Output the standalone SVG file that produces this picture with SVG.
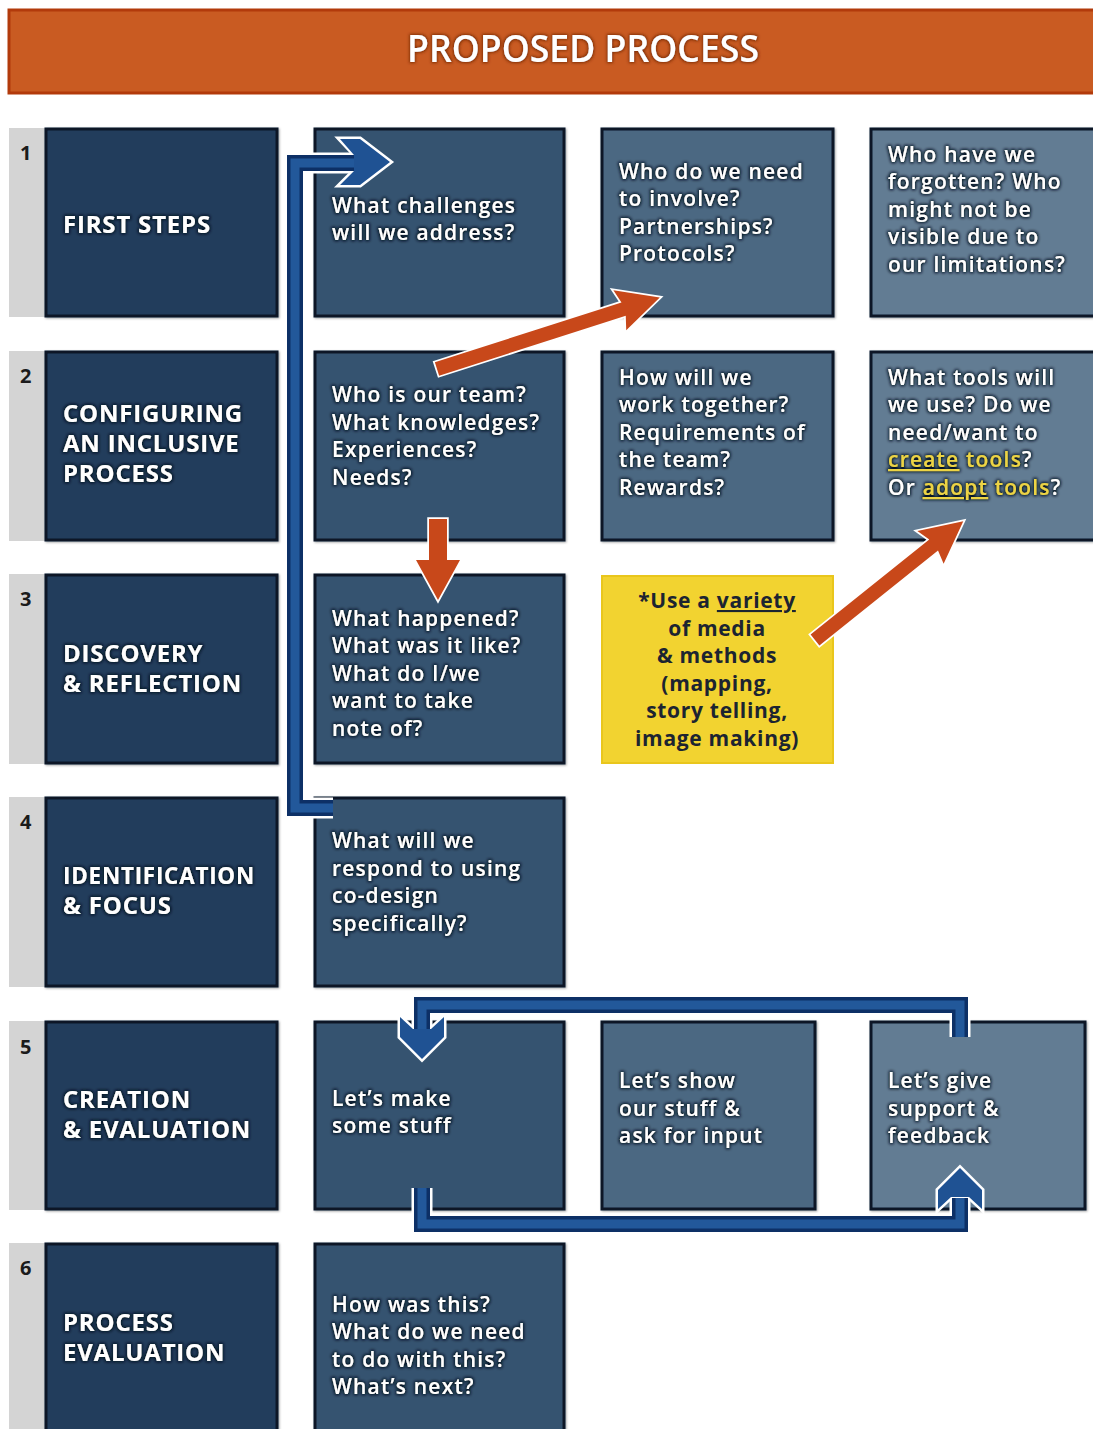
<svg xmlns="http://www.w3.org/2000/svg" width="1093" height="1429" viewBox="0 0 1093 1429">
  <defs>
    <filter id="halo" x="-10%" y="-30%" width="120%" height="160%">
      <feMorphology in="SourceAlpha" operator="dilate" radius="1" result="d"/>
      <feGaussianBlur in="d" stdDeviation="1.6" result="b"/>
      <feFlood flood-color="#06111f" flood-opacity="0.95"/>
      <feComposite in2="b" operator="in" result="s"/>
      <feMerge><feMergeNode in="s"/><feMergeNode in="SourceGraphic"/></feMerge>
    </filter>
    <filter id="haloOrange" x="-10%" y="-30%" width="120%" height="160%">
      <feMorphology in="SourceAlpha" operator="dilate" radius="1" result="d"/>
      <feGaussianBlur in="d" stdDeviation="1.8" result="b"/>
      <feFlood flood-color="#7a2a05" flood-opacity="0.9"/>
      <feComposite in2="b" operator="in" result="s"/>
      <feMerge><feMergeNode in="s"/><feMergeNode in="SourceGraphic"/></feMerge>
    </filter>
    <filter id="boxShade" x="-5%" y="-5%" width="110%" height="110%">
      <feDropShadow dx="1" dy="1" stdDeviation="1.2" flood-color="#000" flood-opacity="0.35"/>
    </filter>
  </defs>
  <style>
    .strip { fill: #d4d4d4; }
    .num { font-family: "Open Sans", "Liberation Sans", sans-serif; font-weight: 700; font-size: 20px; fill: #1b1b1b; }
    .box { stroke: #0a1628; stroke-width: 3; filter: url(#boxShade); }
    .c0 { fill: #213d5c; }
    .c1 { fill: #36536f; }
    .c2 { fill: #4b6782; }
    .c3 { fill: #627b93; }
    .yellow { fill: #f2d330; stroke: #e9c61c; stroke-width: 2; }
    .title { font-family: "Open Sans", "Liberation Sans", sans-serif; font-weight: 700; font-size: 24px; letter-spacing: 0.8px; fill: #ffffff; filter: url(#halo); }
    .txt { font-family: "Open Sans", "Liberation Sans", sans-serif; font-weight: 600; font-size: 21px; letter-spacing: 1.2px; fill: #ffffff; filter: url(#halo); }
    .ytxt { font-family: "Open Sans", "Liberation Sans", sans-serif; font-weight: 700; font-size: 21px; letter-spacing: 0.7px; fill: #1c2431; text-anchor: middle; }
    .hl { fill: #ecd445; text-decoration: underline; }
    .ul { text-decoration: underline; }
    .bw { fill: none; stroke: #ffffff; stroke-width: 21; stroke-linejoin: miter; }
    .bd { fill: none; stroke: #0d3066; stroke-width: 16; stroke-linejoin: miter; }
    .bb { fill: none; stroke: #22589a; stroke-width: 9; stroke-linejoin: miter; }
    .bheadW { fill: #ffffff; stroke: #ffffff; stroke-width: 5; stroke-linejoin: miter; }
    .bhead { fill: #1f5293; }
    .orange { fill: #c8481a; stroke: #ffffff; stroke-width: 3.5; paint-order: stroke; stroke-linejoin: miter; }
  </style>

  <!-- header banner -->
  <g id="header">
    <rect x="9" y="10" width="1090" height="83" fill="#c95b22" stroke="#b23a0b" stroke-width="3"/>
    <text x="583" y="62" text-anchor="middle" font-family="'Open Sans', 'Liberation Sans', sans-serif" font-weight="600" font-size="37" fill="#ffffff" textLength="352" lengthAdjust="spacingAndGlyphs" filter="url(#haloOrange)">PROPOSED PROCESS</text>
  </g>

  <!-- row 1 -->
  <g id="row1">
    <rect class="strip" x="9" y="128" width="37" height="189"/>
    <text class="num" x="20" y="160">1</text>
  </g>
  <g id="first-steps">
    <rect class="box c0" x="46" y="129" width="231" height="187"/>
    <text class="title" x="63" y="233">FIRST STEPS</text>
  </g>
  <g id="challenges">
    <rect class="box c1" x="315" y="129" width="249" height="187"/>
    <text class="txt" x="332" y="213">What challenges</text>
    <text class="txt" x="332" y="240">will we address?</text>
  </g>
  <g id="involve">
    <rect class="box c2" x="602" y="129" width="231" height="187"/>
    <text class="txt" x="619" y="179">Who do we need</text>
    <text class="txt" x="619" y="206">to involve?</text>
    <text class="txt" x="619" y="234">Partnerships?</text>
    <text class="txt" x="619" y="261">Protocols?</text>
  </g>
  <g id="forgotten">
    <rect class="box c3" x="871" y="129" width="224" height="187"/>
    <text class="txt" x="888" y="162">Who have we</text>
    <text class="txt" x="888" y="189">forgotten? Who</text>
    <text class="txt" x="888" y="217">might not be</text>
    <text class="txt" x="888" y="244">visible due to</text>
    <text class="txt" x="888" y="272">our limitations?</text>
  </g>

  <!-- row 2 -->
  <g id="row2">
    <rect class="strip" x="9" y="351" width="37" height="190"/>
    <text class="num" x="20" y="383">2</text>
  </g>
  <g id="configuring">
    <rect class="box c0" x="46" y="352" width="231" height="188"/>
    <text class="title" x="63" y="422">CONFIGURING</text>
    <text class="title" x="63" y="452">AN INCLUSIVE</text>
    <text class="title" x="63" y="482">PROCESS</text>
  </g>
  <g id="team">
    <rect class="box c1" x="315" y="352" width="249" height="188"/>
    <text class="txt" x="332" y="402">Who is our team?</text>
    <text class="txt" x="332" y="430">What knowledges?</text>
    <text class="txt" x="332" y="457">Experiences?</text>
    <text class="txt" x="332" y="485">Needs?</text>
  </g>
  <g id="work-together">
    <rect class="box c2" x="602" y="352" width="231" height="188"/>
    <text class="txt" x="619" y="385">How will we</text>
    <text class="txt" x="619" y="412">work together?</text>
    <text class="txt" x="619" y="440">Requirements of</text>
    <text class="txt" x="619" y="467">the team?</text>
    <text class="txt" x="619" y="495">Rewards?</text>
  </g>
  <g id="tools">
    <rect class="box c3" x="871" y="352" width="224" height="188"/>
    <text class="txt" x="888" y="385">What tools will</text>
    <text class="txt" x="888" y="412">we use? Do we</text>
    <text class="txt" x="888" y="440">need/want to</text>
    <text class="txt" x="888" y="467"><tspan class="hl">create</tspan><tspan fill="#ecd445"> tools</tspan>?</text>
    <text class="txt" x="888" y="495">Or <tspan class="hl">adopt</tspan><tspan fill="#ecd445"> tools</tspan>?</text>
  </g>

  <!-- row 3 -->
  <g id="row3">
    <rect class="strip" x="9" y="574" width="37" height="190"/>
    <text class="num" x="20" y="606">3</text>
  </g>
  <g id="discovery">
    <rect class="box c0" x="46" y="575" width="231" height="188"/>
    <text class="title" x="63" y="662">DISCOVERY</text>
    <text class="title" x="63" y="692">&amp; REFLECTION</text>
  </g>
  <g id="happened">
    <rect class="box c1" x="315" y="575" width="249" height="188"/>
    <text class="txt" x="332" y="626">What happened?</text>
    <text class="txt" x="332" y="653">What was it like?</text>
    <text class="txt" x="332" y="681">What do I/we</text>
    <text class="txt" x="332" y="708">want to take</text>
    <text class="txt" x="332" y="736">note of?</text>
  </g>
  <g id="media-note">
    <rect class="yellow" x="602" y="576" width="231" height="187"/>
    <text class="ytxt" x="717" y="608">*Use a <tspan class="ul">variety</tspan></text>
    <text class="ytxt" x="717" y="636">of media</text>
    <text class="ytxt" x="717" y="663">&amp; methods</text>
    <text class="ytxt" x="717" y="691">(mapping,</text>
    <text class="ytxt" x="717" y="718">story telling,</text>
    <text class="ytxt" x="717" y="746">image making)</text>
  </g>

  <!-- row 4 -->
  <g id="row4">
    <rect class="strip" x="9" y="797" width="37" height="190"/>
    <text class="num" x="20" y="829">4</text>
  </g>
  <g id="identification">
    <rect class="box c0" x="46" y="798" width="231" height="188"/>
    <text class="title" x="63" y="884" textLength="192" lengthAdjust="spacingAndGlyphs">IDENTIFICATION</text>
    <text class="title" x="63" y="914">&amp; FOCUS</text>
  </g>
  <g id="respond">
    <rect class="box c1" x="315" y="798" width="249" height="188"/>
    <text class="txt" x="332" y="848">What will we</text>
    <text class="txt" x="332" y="876">respond to using</text>
    <text class="txt" x="332" y="903">co-design</text>
    <text class="txt" x="332" y="931">specifically?</text>
  </g>

  <!-- row 5 -->
  <g id="row5">
    <rect class="strip" x="9" y="1021" width="37" height="189"/>
    <text class="num" x="20" y="1054">5</text>
  </g>
  <g id="creation">
    <rect class="box c0" x="46" y="1022" width="231" height="187"/>
    <text class="title" x="63" y="1108">CREATION</text>
    <text class="title" x="63" y="1138">&amp; EVALUATION</text>
  </g>
  <g id="make">
    <rect class="box c1" x="315" y="1022" width="249" height="187"/>
    <text class="txt" x="332" y="1106">Let’s make</text>
    <text class="txt" x="332" y="1133">some stuff</text>
  </g>
  <g id="show">
    <rect class="box c2" x="602" y="1022" width="213" height="187"/>
    <text class="txt" x="619" y="1088">Let’s show</text>
    <text class="txt" x="619" y="1116">our stuff &amp;</text>
    <text class="txt" x="619" y="1143">ask for input</text>
  </g>
  <g id="feedback">
    <rect class="box c3" x="871" y="1022" width="214" height="187"/>
    <text class="txt" x="888" y="1088">Let’s give</text>
    <text class="txt" x="888" y="1116">support &amp;</text>
    <text class="txt" x="888" y="1143">feedback</text>
  </g>

  <!-- row 6 -->
  <g id="row6">
    <rect class="strip" x="9" y="1243" width="37" height="190"/>
    <text class="num" x="20" y="1275">6</text>
  </g>
  <g id="process-evaluation">
    <rect class="box c0" x="46" y="1244" width="231" height="190"/>
    <text class="title" x="63" y="1331">PROCESS</text>
    <text class="title" x="63" y="1361">EVALUATION</text>
  </g>
  <g id="how-was-this">
    <rect class="box c1" x="315" y="1244" width="249" height="190"/>
    <text class="txt" x="332" y="1312">How was this?</text>
    <text class="txt" x="332" y="1339">What do we need</text>
    <text class="txt" x="332" y="1367">to do with this?</text>
    <text class="txt" x="332" y="1394">What’s next?</text>
  </g>

  <!-- connectors -->
  <g id="connectors">
    <!-- blue return arrow: row 4 back up to row 1 -->
    <g id="return-loop">
      <path class="bw" d="M333,808 H295 V163 H356"/>
      <polygon class="bheadW" points="340,139 360,139 390,162 360,185 340,185 355,170 355,155"/>
      <path class="bd" d="M333,808 H295 V163 H356"/>
      <path class="bb" d="M333,808 H295 V163 H356"/>
      <polygon class="bhead" points="340,139 360,139 390,162 360,185 340,185 354,171 354,155"/>
    </g>

    <!-- orange arrows -->
    <polygon class="orange" transform="translate(437,369) rotate(-17.8)" points="0,-7 196,-7 192,-21 234,0 192,21 196,7 0,7"/>
    <polygon class="orange" points="429,519 447,519 447,560 460,560 438,600 416,560 429,560"/>
    <polygon class="orange" transform="translate(815,640) rotate(-38.7)" points="0,-7 152,-7 148,-21 190,0 148,21 152,7 0,7"/>

    <!-- row 5 feedback loop: top bracket -->
    <g id="loop-top">
      <path class="bw" d="M960,1037 V1005 H422 V1030"/>
      <polygon class="bheadW" points="400,1017 413,1029 431,1029 444,1017 444,1037 422,1059 400,1037"/>
      <path class="bd" d="M960,1037 V1005 H422 V1030"/>
      <path class="bb" d="M960,1037 V1005 H422 V1030"/>
      <polygon class="bhead" points="400,1017 413,1029 431,1029 444,1017 444,1037 422,1059 400,1037"/>
    </g>
    <!-- row 5 feedback loop: bottom bracket -->
    <g id="loop-bottom">
      <path class="bw" d="M422,1188 V1224 H960 V1198"/>
      <polygon class="bheadW" points="938,1190 960,1168 982,1190 982,1209 969,1197 951,1197 938,1209"/>
      <path class="bd" d="M422,1188 V1224 H960 V1198"/>
      <path class="bb" d="M422,1188 V1224 H960 V1198"/>
      <polygon class="bhead" points="938,1190 960,1168 982,1190 982,1209 969,1197 951,1197 938,1209"/>
    </g>
  </g>
</svg>
